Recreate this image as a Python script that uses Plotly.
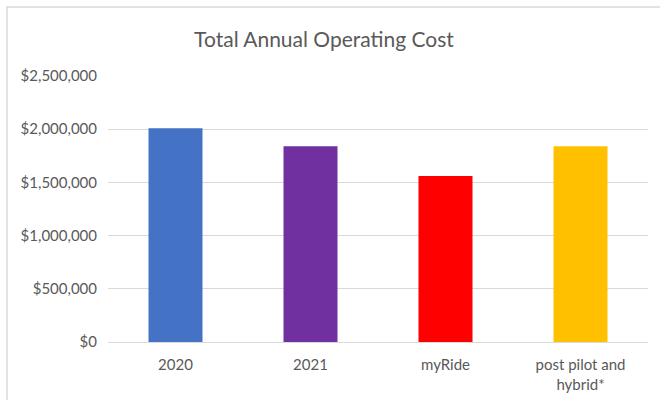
import plotly.graph_objects as go

categories = ["2020", "2021", "myRide", "post pilot and<br>hybrid*"]
costs = [2010000, 1840000, 1560000, 1840000]
colors = ["#4472C4", "#7030A0", "#FF0000", "#FFC000"]
tick_vals = [0, 500000, 1000000, 1500000, 2000000, 2500000]
tick_text = ["$0", "$500,000", "$1,000,000", "$1,500,000", "$2,000,000", "$2,500,000"]

L, R, T, B = 108, 12, 76, 58
W, H = 660, 400
pw, ph = W - L - R, H - T - B

fig = go.Figure(go.Bar(
    x=categories, y=costs, marker=dict(color=colors, line=dict(width=0)),
    width=0.4,
))

fig.update_layout(
    width=W, height=H,
    margin=dict(l=L, r=R, t=T, b=B),
    paper_bgcolor="white", plot_bgcolor="white",
    showlegend=False,
    font=dict(family="Lato, Open Sans, sans-serif", color="#595959", size=15),
    title=dict(text="Total Annual Operating Cost", x=324 / W, xanchor="center",
               y=1 - 40 / H, yanchor="middle",
               font=dict(size=21, color="#595959")),
    bargap=0.6,
    xaxis=dict(showgrid=False, showline=False, ticks="", ticklabelstandoff=12,
               tickfont=dict(size=15), automargin=False),
    yaxis=dict(range=[0, 2500000], tickvals=tick_vals, ticktext=tick_text,
               showgrid=True, gridcolor="#D9D9D9", gridwidth=1,
               zeroline=True, zerolinecolor="#D9D9D9", zerolinewidth=1,
               showline=False, ticks="", ticklabelstandoff=10,
               tickfont=dict(size=15), automargin=False),
)

# chart border
x0 = (7 - L) / pw
x1 = (W + 5 - L) / pw
y1 = (H - B - 7) / ph
y0 = -(B + 10) / ph
fig.add_shape(type="rect", xref="paper", yref="paper", x0=x0, x1=x1, y0=y0, y1=y1,
              line=dict(color="#D9D9D9", width=1.5), layer="below")

fig.write_html("out.html", config={"displayModeBar": False},
               post_script="document.body.style.margin='0';")
